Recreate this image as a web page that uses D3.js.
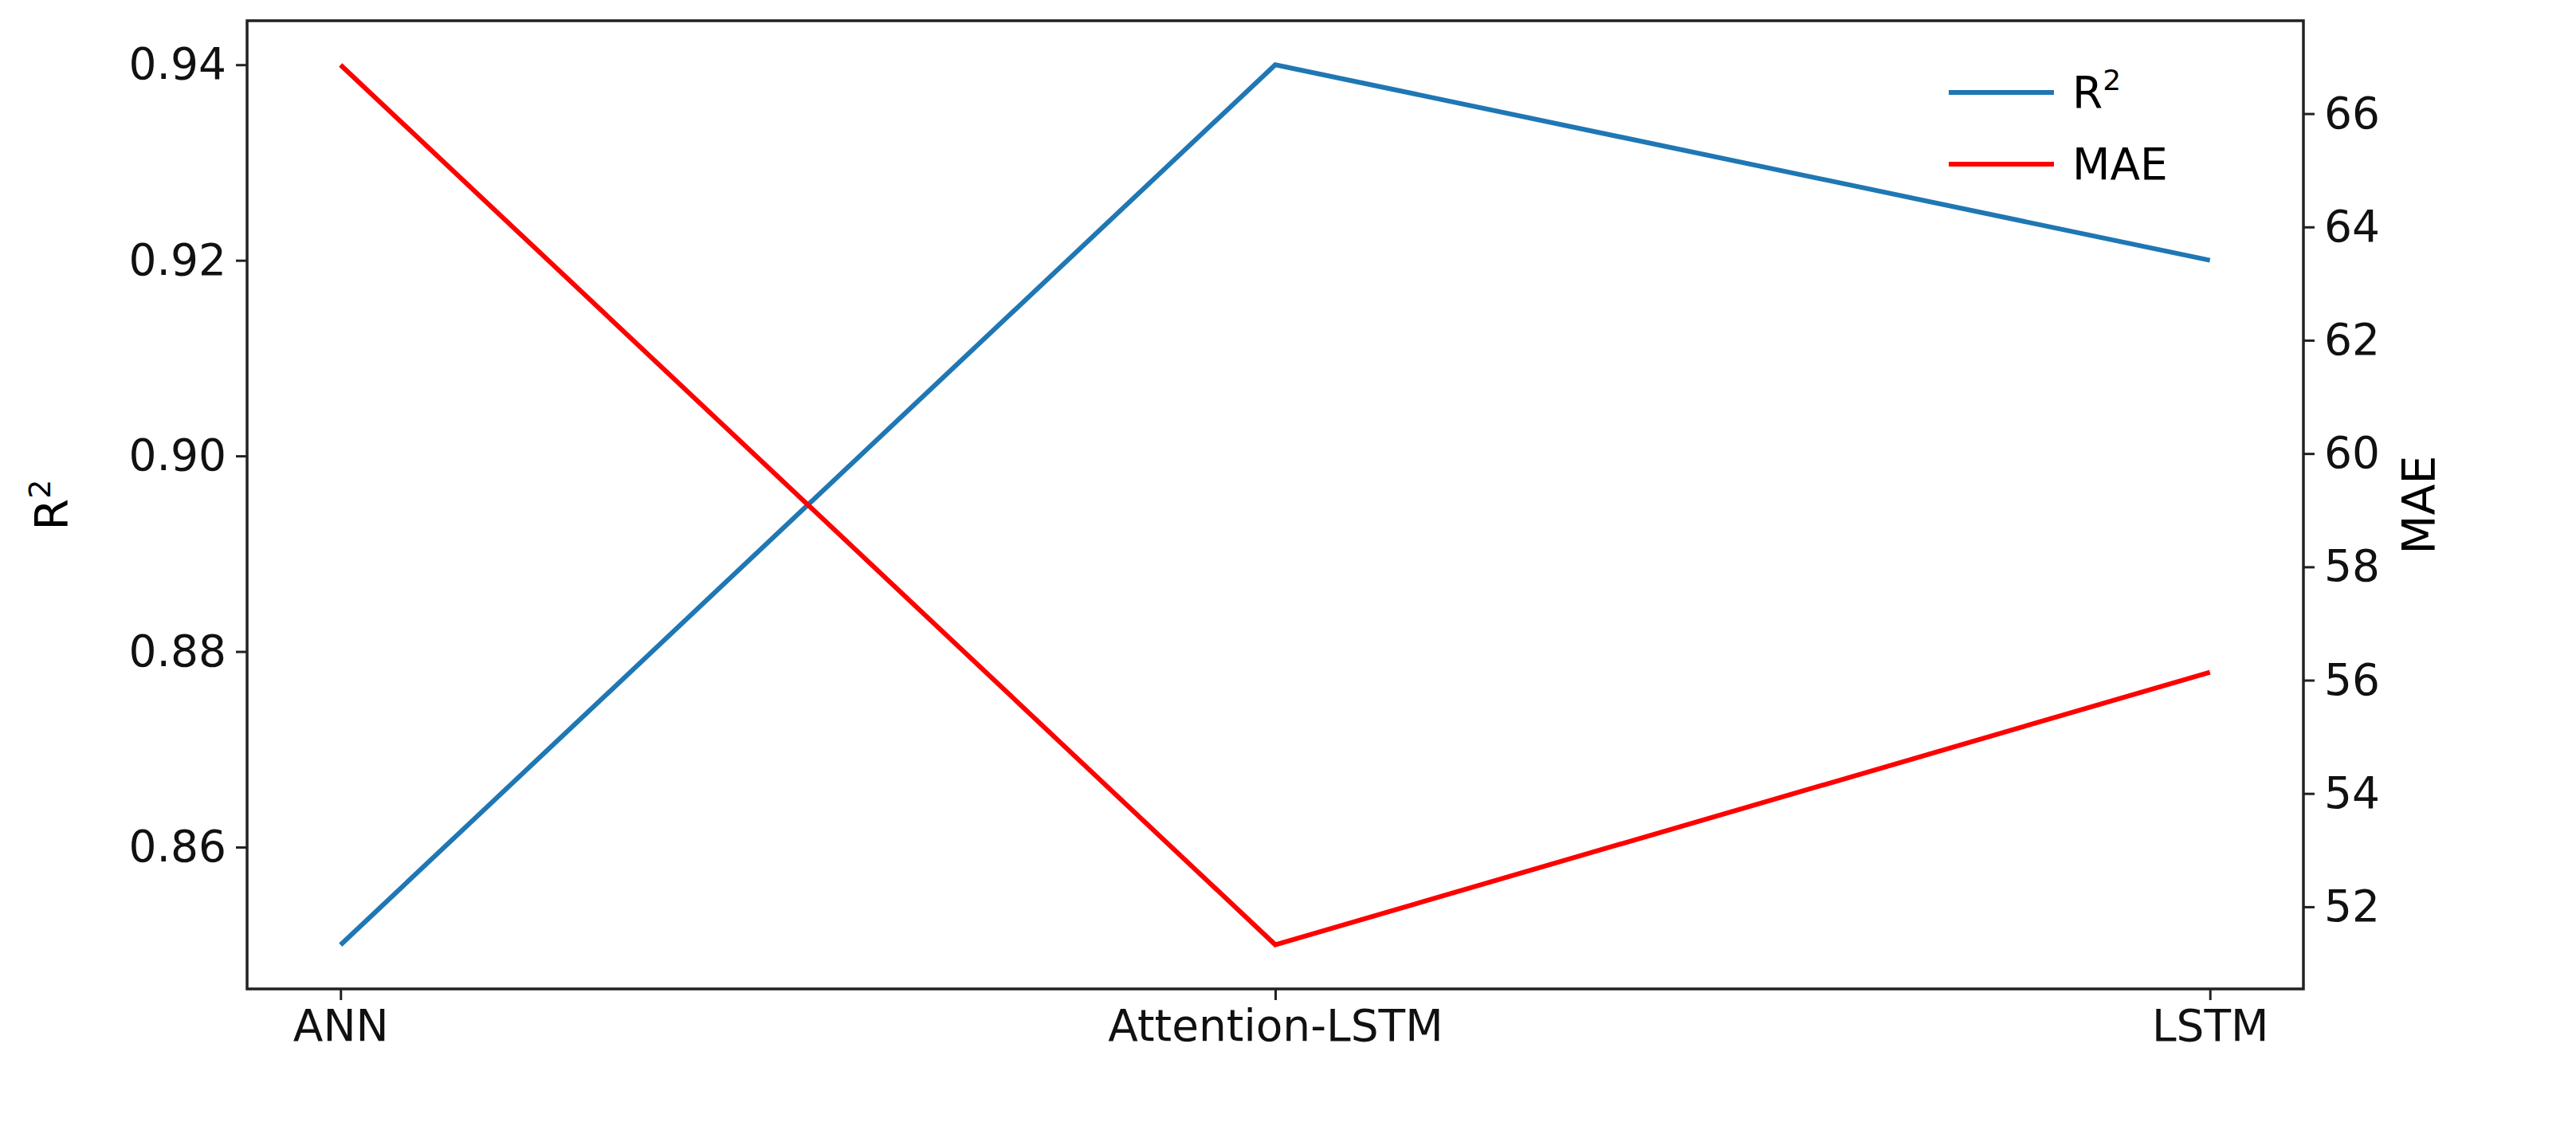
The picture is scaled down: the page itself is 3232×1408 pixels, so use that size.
<!DOCTYPE html>
<html><head><meta charset="utf-8">
<script src="https://cdn.jsdelivr.net/npm/d3@7"></script>
<style>body{margin:0;background:#fff}text{font-family:"DejaVu Sans",sans-serif}</style>
</head><body><svg id="c" width="3232" height="1408"></svg>
<script>
const categories = ["ANN","Attention-LSTM","LSTM"];
const r2Values = [0.85,0.94,0.92];
const maeValues = [66.86,51.33,56.14];
const r2Ticks = [0.86,0.88,0.90,0.92,0.94];
const maeTicks = [52,54,56,58,60,62,64,66];

const svg = d3.select("#c");
const L=310,R=2890,T=26,B=1241,fs=55;
const xin = d3.scaleLinear().domain([-0.1,2.1]).range([L,R]);
const yL = d3.scaleLinear().domain([0.8455,0.9445]).range([B,T]);
const yR = d3.scaleLinear().domain([50.55,67.64]).range([B,T]);
const xp = (d,i)=>xin(i);

function style(g){g.selectAll("text").attr("font-size",fs).attr("fill","#111");g.selectAll("line").attr("stroke","#222").attr("stroke-width",3);g.select(".domain").remove();}
const gx = svg.append("g").attr("transform",`translate(0,${B})`)
 .call(d3.axisBottom(xin).tickValues([0,1,2]).tickFormat(i=>categories[i]).tickSize(14).tickPadding(12));
style(gx);
const gl = svg.append("g").attr("transform",`translate(${L},0)`)
 .call(d3.axisLeft(yL).tickValues(r2Ticks).tickFormat(d3.format(".2f")).tickSize(14).tickPadding(12));
style(gl);
const gr = svg.append("g").attr("transform",`translate(${R},0)`)
 .call(d3.axisRight(yR).tickValues(maeTicks).tickFormat(d3.format("d")).tickSize(14).tickPadding(12));
style(gr);
svg.append("rect").attr("x",L).attr("y",T).attr("width",R-L).attr("height",B-T).attr("fill","none").attr("stroke","#222").attr("stroke-width",3.5);

svg.append("path").datum(r2Values).attr("fill","none").attr("stroke","#1f77b4").attr("stroke-width",6)
 .attr("d",d3.line().x(xp).y(d=>yL(d)));
svg.append("path").datum(maeValues).attr("fill","none").attr("stroke","#ff0000").attr("stroke-width",6)
 .attr("d",d3.line().x(xp).y(d=>yR(d)));

const ly = svg.append("text").attr("transform",`translate(${L-225},${(T+B)/2}) rotate(-90)`).attr("text-anchor","middle").attr("font-size",fs+2);
ly.append("tspan").text("R");ly.append("tspan").attr("dy",-22).attr("font-size",38).text("2");
svg.append("text").attr("transform",`translate(${R+165},${(T+B)/2}) rotate(-90)`).attr("text-anchor","middle").attr("font-size",fs+2).text("MAE");

const leg=[["R","#1f77b4",true],["MAE","#ff0000",false]];
leg.forEach((d,i)=>{
 const y=116+i*90;
 svg.append("line").attr("x1",2445).attr("x2",2577).attr("y1",y).attr("y2",y).attr("stroke",d[1]).attr("stroke-width",6);
 const t=svg.append("text").attr("x",2600).attr("y",y+19).attr("font-size",fs);
 t.append("tspan").text(d[0]);
 if(d[2]) t.append("tspan").attr("dy",-22).attr("font-size",36).text("2");
});
</script></body></html>
